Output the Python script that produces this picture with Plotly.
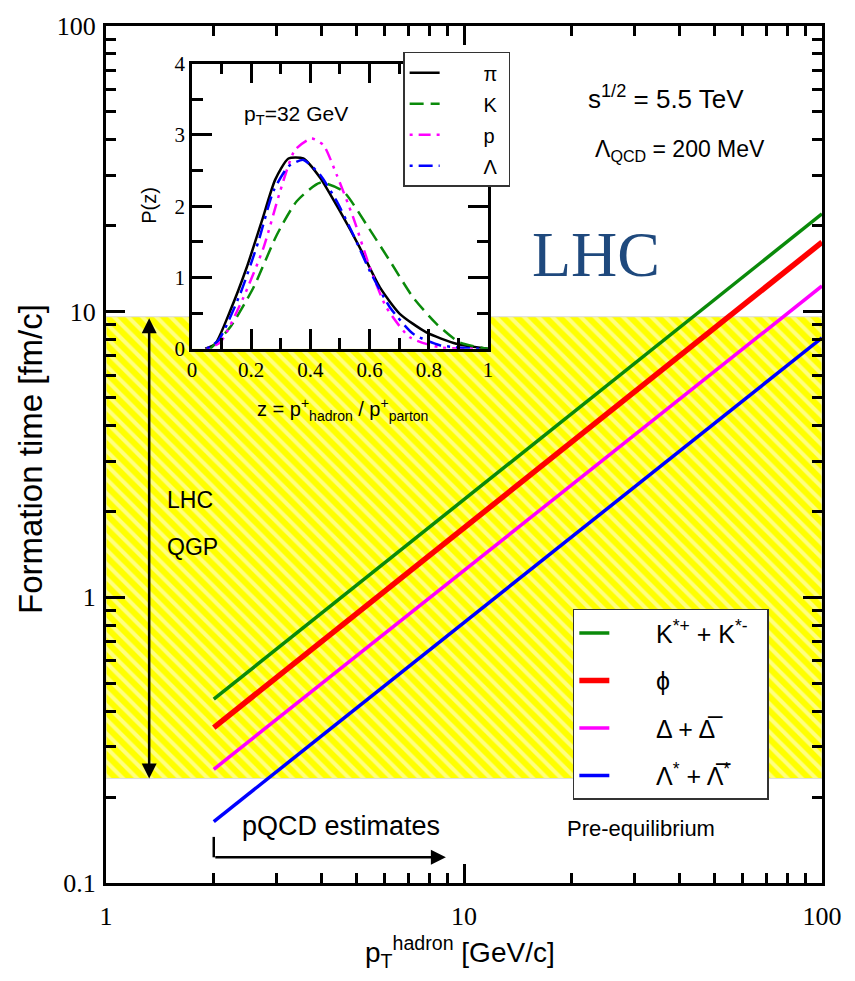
import math
import plotly.graph_objects as go

# ---------------- data ----------------
pt_hadron = [2, 100]
tau_kstar = [0.44, 22.0]
tau_phi = [0.35, 17.5]
tau_delta = [0.25, 12.3]
tau_lambda = [0.164, 8.1]
qgp_band = [0.232, 9.6]   # formation-time band (fm/c)
pt_band = [1, 100]

main_names = ["K<sup>*+</sup> + K<sup>*-</sup>", "\u03d5", "\u0394 + \u0394\u0305",
              "\u039b<sup>*</sup> + \u039b\u0305<sup>*</sup>"]
main_colors = ["#0a8a0a", "#ff0000", "#ff00ff", "#0000ff"]
main_widths = [3.5, 5.5, 3.5, 3.5]

z_pi = [0.045, 0.079, 0.129, 0.185, 0.236, 0.281, 0.326, 0.376, 0.433, 0.50, 0.567, 0.635, 0.702, 0.792, 0.893, 1.0]
p_pi = [0.0, 0.07, 0.53, 1.14, 1.79, 2.37, 2.67, 2.67, 2.40, 1.93, 1.42, 0.86, 0.49, 0.23, 0.07, 0.0]
z_k = [0.062, 0.129, 0.208, 0.287, 0.354, 0.433, 0.511, 0.59, 0.669, 0.747, 0.826, 0.904, 1.0]
p_k = [0.0, 0.30, 0.86, 1.60, 2.07, 2.33, 2.21, 1.74, 1.23, 0.72, 0.35, 0.09, 0.0]
z_p = [0.05, 0.096, 0.174, 0.242, 0.298, 0.348, 0.404, 0.444, 0.489, 0.545, 0.601, 0.657, 0.736, 0.837, 0.97]
p_p = [0.0, 0.09, 0.72, 1.42, 2.21, 2.79, 2.95, 2.86, 2.44, 1.84, 1.14, 0.58, 0.16, 0.02, 0.0]
z_l = [0.05, 0.09, 0.163, 0.225, 0.275, 0.326, 0.376, 0.433, 0.489, 0.545, 0.601, 0.669, 0.747, 0.837, 0.97]
p_l = [0.0, 0.12, 0.77, 1.51, 2.21, 2.56, 2.65, 2.44, 2.07, 1.60, 1.09, 0.58, 0.21, 0.05, 0.0]

inset_names = ["\u03c0", "K", "p", "\u039b"]
inset_colors = ["black", "#0a8a0a", "#ff00ff", "#0000ff"]
inset_dashes = ["solid", "14px,7px", "3px,6px,12px,6px,3px,6px", "3px,6px,14px,6px"]

major_x = [1, 10, 100]
minor_x = [2, 3, 4, 5, 6, 7, 8, 9, 20, 30, 40, 50, 60, 70, 80, 90]
major_y = [0.1, 1, 10, 100]
minor_y = [0.2, 0.3, 0.4, 0.5, 0.6, 0.7, 0.8, 0.9, 2, 3, 4, 5, 6, 7, 8, 9,
           20, 30, 40, 50, 60, 70, 80, 90]

NB = "\u00a0"

# ---------------- figure ----------------
fig = go.Figure()

# hatched QGP band
fig.add_trace(go.Scatter(
    x=[pt_band[0], pt_band[1], pt_band[1], pt_band[0], pt_band[0]],
    y=[qgp_band[0], qgp_band[0], qgp_band[1], qgp_band[1], qgp_band[0]],
    mode="lines", fill="toself", line=dict(color="#dcdcdc", width=1),
    fillpattern=dict(shape="\\", bgcolor="#ffff00", fgcolor="white", size=10, solidity=0.4),
    hoverinfo="skip", showlegend=False))

for i, (tau, name) in enumerate(zip([tau_kstar, tau_phi, tau_delta, tau_lambda], main_names)):
    fig.add_trace(go.Scatter(
        x=pt_hadron, y=tau, mode="lines", name=NB * 6 + name + NB * 2,
        line=dict(color=main_colors[i], width=main_widths[i]),
        legend="legend", legendgroup="m%d" % i))

# pQCD bracket vertical segment
fig.add_trace(go.Scatter(x=[2, 2], y=[0.145, 0.123], mode="lines",
                         line=dict(color="black", width=2.5), showlegend=False, hoverinfo="skip"))

# inset white background
fig.add_trace(go.Scatter(x=[0, 1, 1, 0, 0], y=[0, 0, 4, 4, 0], mode="lines", fill="toself",
                         fillcolor="white", line=dict(width=0), xaxis="x2", yaxis="y2",
                         showlegend=False, hoverinfo="skip"))
for i, (zz, pp) in enumerate([(z_pi, p_pi), (z_k, p_k), (z_p, p_p), (z_l, p_l)]):
    fig.add_trace(go.Scatter(
        x=zz, y=pp, mode="lines", name=NB * 7 + inset_names[i] + NB, xaxis="x2", yaxis="y2",
        line=dict(color=inset_colors[i], width=2.5, dash=inset_dashes[i], shape="spline", smoothing=0.6),
        legend="legend2", legendgroup="i%d" % i))

serif = "Liberation Serif"
sans = "Liberation Sans"

axis_common = dict(showline=True, linewidth=3, linecolor="black", mirror="ticks",
                   showgrid=False, zeroline=False, ticks="inside", tickwidth=3,
                   tickcolor="black", ticklen=19,
                   tickfont=dict(family=serif, size=26, color="black"))

fig.update_layout(
    width=855, height=981,
    margin=dict(l=106, r=33, t=20, b=98),
    paper_bgcolor="white", plot_bgcolor="white",
    xaxis=dict(type="log", range=[0, 2], tickmode="array", tickvals=major_x,
               ticktext=["1", "10", "100"], ticklabelstandoff=8,
               minor=dict(tickmode="array", tickvals=minor_x, ticks="inside", ticklen=10,
                          tickwidth=3, tickcolor="black", showgrid=False),
               **axis_common),
    yaxis=dict(type="log", range=[-1, 2], tickmode="array", tickvals=major_y,
               ticktext=["0.1", "1", "10", "100"], ticklabelstandoff=2,
               minor=dict(tickmode="array", tickvals=minor_y, ticks="inside", ticklen=10,
                          tickwidth=3, tickcolor="black", showgrid=False),
               **axis_common),
    xaxis2=dict(domain=[0.120, 0.5335], anchor="y2", range=[0, 1], tickmode="linear",
                tick0=0, dtick=0.2, showline=True, linewidth=2.5, linecolor="black",
                mirror="ticks", ticks="inside", ticklen=20, tickwidth=2.5, tickcolor="black",
                minor=dict(dtick=0.1, ticks="inside", ticklen=11, tickwidth=2.5, tickcolor="black"),
                showgrid=False, zeroline=False,
                tickfont=dict(family=serif, size=21, color="black")),
    yaxis2=dict(domain=[0.6234, 0.956], anchor="x2", range=[0, 4], tickmode="linear",
                tick0=0, dtick=1, showline=True, linewidth=2.5, linecolor="black",
                mirror="ticks", ticks="inside", ticklen=20, tickwidth=2.5, tickcolor="black",
                minor=dict(dtick=0.5, ticks="inside", ticklen=11, tickwidth=2.5, tickcolor="black"),
                showgrid=False, zeroline=False,
                tickfont=dict(family=serif, size=21, color="black")),
    legend=dict(x=0.652, y=0.32, xanchor="left", yanchor="top", bgcolor="white",
                bordercolor="#333333", borderwidth=1.5, tracegroupgap=12,
                font=dict(family=sans, size=25, color="black")),
    legend2=dict(x=0.415, y=0.97, xanchor="left", yanchor="top", bgcolor="white",
                 bordercolor="#333333", borderwidth=1.5, tracegroupgap=2,
                 font=dict(family=sans, size=20, color="black")),
    showlegend=True,
)

def px2paper(px, py):
    return (px - 106) / 716.0, (883 - py) / 863.0

def add_text(text, px, py, size, family=sans, color="black", angle=0, xanchor="center"):
    x, y = px2paper(px, py)
    fig.add_annotation(text=text, x=x, y=y, xref="paper", yref="paper", showarrow=False,
                       xanchor=xanchor, yanchor="middle", textangle=angle,
                       font=dict(family=family, size=size, color=color))

add_text("s<sup>1/2</sup> = 5.5 TeV", 666, 92, 26)
add_text("\u039b<sub>QCD</sub> = 200 MeV", 680, 145, 23)
add_text("LHC", 596, 250, 64, family=serif, color="#1f497d")
add_text("LHC", 165, 497, 23, xanchor="left")
add_text("QGP", 165, 545, 23, xanchor="left")
add_text("pQCD estimates", 341, 826, 27)
add_text("Pre-equilibrium", 641, 828, 22)
add_text("p<sub>T</sub>=32 GeV", 296, 110, 21)
add_text("z = p<sup>+</sup><sub>hadron</sub> / p<sup>+</sup><sub>parton</sub>", 342, 406, 20)
add_text("P(z)", 149, 201, 20, angle=-90)
add_text("Formation time [fm/c]", 31, 456, 33, angle=-90)
add_text("p<sub>T</sub><sup>hadron</sup> [GeV/c]", 460, 952, 28)

# vertical double arrow for QGP range
xa = math.log10(1.32)
fig.add_annotation(x=xa, y=math.log10(qgp_band[0]), ax=xa, ay=math.log10(qgp_band[1]),
                   xref="x", yref="y", axref="x", ayref="y", text="", showarrow=True,
                   arrowhead=2, arrowside="end+start", arrowsize=1.2, arrowwidth=2.5,
                   arrowcolor="black")
# pQCD arrow
fig.add_annotation(x=math.log10(8.9), y=math.log10(0.123), ax=math.log10(2), ay=math.log10(0.123),
                   xref="x", yref="y", axref="x", ayref="y", text="", showarrow=True,
                   arrowhead=2, arrowsize=1.2, arrowwidth=2.5, arrowcolor="black")

fig.write_html("out.html")
